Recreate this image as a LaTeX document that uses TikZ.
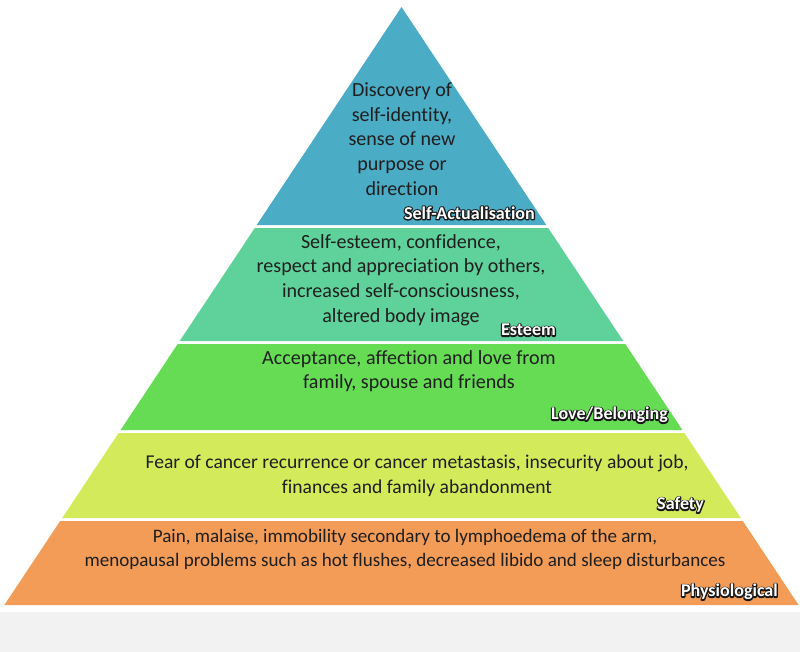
\documentclass[tikz,border=0pt]{standalone}
\usepackage{fontspec}
\setmainfont{Carlito}[Ligatures=NoCommon]

\definecolor{actblue}{HTML}{4BACC6}
\definecolor{esteemgreen}{HTML}{5ED29A}
\definecolor{lovegreen}{HTML}{66DC55}
\definecolor{safetyyellow}{HTML}{D3EA5B}
\definecolor{physorange}{HTML}{F29C57}
\definecolor{footgray}{HTML}{F2F2F2}

% white letters on a dark stroked copy of themselves
\newcommand{\rimtext}[1]{\rlap{\color{black!90}\special{pdf:literal direct 1 Tr 2.4 w 1 j}#1\special{pdf:literal direct 0 Tr}}#1}

\tikzset{
  tiertext/.style={align=center, text=black!88, font=\fontsize{20}{24.5}\selectfont},
  tierlabel/.style={anchor=east, inner sep=0pt, text=white, font=\bfseries\fontsize{18}{20}\selectfont}
}

\begin{document}
\begin{tikzpicture}[x=0.035cm,y=-0.035cm]
\useasboundingbox (0,0) rectangle (800,652);
\fill[white] (0,0) rectangle (800,652);
\fill[footgray] (0,612) rectangle (800,652);
% pyramid tiers
\fill[actblue] (401.5,7) -- (546.3,225) -- (256.7,225) -- cycle;
\fill[esteemgreen] (254.8,228) -- (548.2,228) -- (623.3,341) -- (179.7,341) -- cycle;
\fill[lovegreen] (177.7,344) -- (625.3,344) -- (682.4,430) -- (120.6,430) -- cycle;
\fill[safetyyellow] (118.6,433) -- (684.4,433) -- (740.8,518) -- (62.2,518) -- cycle;
\fill[physorange] (60.2,521) -- (742.8,521) -- (798.6,605) -- (4.4,605) -- cycle;
% tier texts
\node[tiertext] (acttext) at (402,139) {Discovery of\\self-identity,\\sense of new\\purpose or\\direction};
\node[tiertext] (esteemtext) at (401,280) {Self-esteem, confidence,\\respect and appreciation by others,\\increased self-consciousness,\\altered body image};
\node[tiertext] (lovetext) at (409,371) {Acceptance, affection and love from\\family, spouse and friends};
\node[tiertext, font=\fontsize{19.5}{24.5}\selectfont] (safetytext) at (417,476) {Fear of cancer recurrence or cancer metastasis, insecurity about job,\\finances and family abandonment};
\node[tiertext, font=\fontsize{19}{24}\selectfont] (phystext) at (405,549) {Pain, malaise, immobility secondary to lymphoedema of the arm,\\menopausal problems such as hot flushes, decreased libido and sleep disturbances};
% tier names
\node[tierlabel] (actlabel) at (535,213) {\rimtext{Self-Actualisation}};
\node[tierlabel] (esteemlabel) at (556,330) {\rimtext{Esteem}};
\node[tierlabel] (lovelabel) at (668,415) {\rimtext{Love/Belonging}};
\node[tierlabel] (safetylabel) at (704,505) {\rimtext{Safety}};
\node[tierlabel] (physlabel) at (778,592) {\rimtext{Physiological}};
\end{tikzpicture}
\end{document}
